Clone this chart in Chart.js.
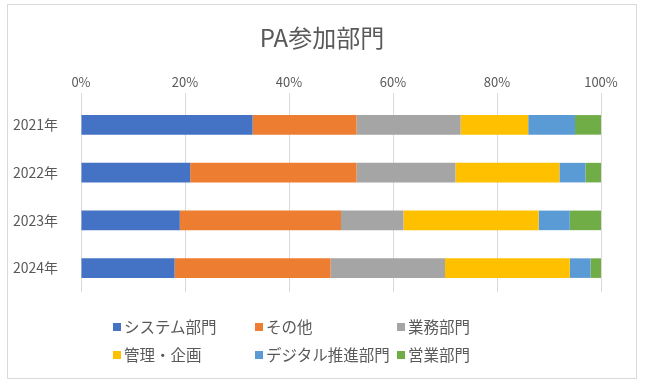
<!DOCTYPE html>
<html><head><meta charset="utf-8">
<script src="https://cdn.jsdelivr.net/npm/chart.js@4.4.1/dist/chart.umd.min.js"></script>
<style>
html,body{margin:0;padding:0;background:#fff;}
#wrap{position:relative;width:649px;height:391px;}
#frame{position:absolute;left:7px;top:4px;width:630px;height:375px;border:1px solid #d9d9d9;box-sizing:border-box;}
canvas{position:absolute;left:0;top:0;}
#title{position:absolute;left:222px;width:200px;top:22px;text-align:center;font-family:"Noto Sans CJK JP","Noto Sans",sans-serif;font-size:24px;line-height:30px;color:#595959;}
#legend{position:absolute;left:0;top:0;width:649px;height:391px;pointer-events:none;font-family:"Noto Sans CJK JP","Noto Sans",sans-serif;font-size:15.5px;color:#595959;}
.li{position:absolute;display:flex;align-items:center;white-space:nowrap;line-height:1;}
.li span.b{display:inline-block;width:8px;height:8px;margin-right:3px;}
</style></head>
<body><div id="wrap"><div id="frame"></div><canvas id="c" width="649" height="391"></canvas><div id="title">PA参加部門</div><div id="legend"></div></div>
<script>
const categories = ["2021年","2022年","2023年","2024年"];
const seriesNames = ["システム部門","その他","業務部門","管理・企画","デジタル推進部門","営業部門"];
const systemDept = [33, 21, 19, 18];
const other      = [20, 32, 31, 30];
const businessDept = [20, 19, 12, 22];
const mgmtPlanning = [13, 20, 26, 24];
const digitalDept = [9, 5, 6, 4];
const salesDept  = [5, 3, 6, 2];
const xTickLabels = ["0%","20%","40%","60%","80%","100%"];
const colors = ["#4472C4","#ED7D31","#A5A5A5","#FFC000","#5B9BD5","#70AD47"];
const values = [systemDept, other, businessDept, mgmtPlanning, digitalDept, salesDept];

const font = '"Noto Sans CJK JP","Noto Sans",sans-serif';
new Chart(document.getElementById('c'), {
  type: 'bar',
  data: {
    labels: categories,
    datasets: seriesNames.map((n,i)=>({label:n,data:values[i],backgroundColor:colors[i],barPercentage:0.41,categoryPercentage:1.0,borderWidth:0}))
  },
  options: {
    indexAxis: 'y',
    responsive: false,
    animation: false,
    layout: {padding: {left: 8, right: 48, top: 51, bottom: 99}},
    plugins: {
      legend: {display: false},
      tooltip: {enabled: false},
      title: {display: false}
    },
    scales: {
      x: {
        position: 'top', stacked: true, min: 0, max: 100,
        afterFit: s => { s.height = 50; },
        afterBuildTicks: s => { s.ticks = xTickLabels.map((t,i)=>({value:i*20})); },
        ticks: {stepSize: 20, color: '#595959', font: {family: font, size: 13}, padding: 3, callback: (v,i)=>xTickLabels[i]},
        grid: {color: '#d9d9d9', tickLength: 8, drawTicks: true},
        border: {display: false}
      },
      y: {
        stacked: true,
        afterFit: s => { s.width = 73; },
        ticks: {color: '#595959', font: {family: font, size: 14}, padding: 15},
        grid: {display: false},
        border: {display: false}
      }
    }
  }
});

const leg = document.getElementById('legend');
const pos = [[113,327],[255,327],[397,327],[113,355],[255,355],[397,355]];
seriesNames.forEach((n,i)=>{
  const d = document.createElement('div');
  d.className='li';
  d.style.left = pos[i][0]+'px';
  d.style.top = (pos[i][1]-9)+'px';
  d.style.height='18px';
  d.innerHTML = '<span class="b" style="background:'+colors[i]+'"></span>'+n;
  leg.appendChild(d);
});
</script></body></html>
